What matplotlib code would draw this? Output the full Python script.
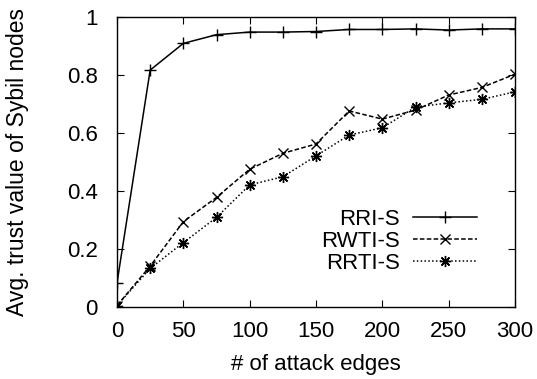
import numpy as np
import matplotlib
matplotlib.use('Agg')
import matplotlib.pyplot as plt

plt.rcParams['font.family'] = ['Liberation Sans', 'DejaVu Sans']

edges = [0, 25, 50, 75, 100, 125, 150, 175, 200, 225, 250, 275, 300]
rri_s = [0.083, 0.817, 0.909, 0.939, 0.948, 0.948, 0.950, 0.957, 0.957, 0.959, 0.955, 0.959, 0.959]
rwti_s = [0.005, 0.141, 0.294, 0.378, 0.475, 0.530, 0.562, 0.676, 0.648, 0.679, 0.731, 0.757, 0.803]
rrti_s = [0.005, 0.133, 0.222, 0.309, 0.421, 0.449, 0.521, 0.593, 0.618, 0.689, 0.704, 0.716, 0.742]

fig = plt.figure(figsize=(5.37, 3.79), dpi=100)
ax = fig.add_axes([117 / 537, 1 - 307 / 379, (515 - 117) / 537, (307 - 17) / 379])

ax.plot(edges, rri_s, color='black', lw=1.1, ls='-', marker='+', ms=8, mew=1.0, label='RRI-S')
ax.plot(edges, rwti_s, color='black', lw=1.1, ls=(0, (3, 1.5)), marker='x', ms=7, mew=1.0, label='RWTI-S')
ax.plot(edges, rrti_s, color='black', lw=1.1, ls=(0, (1, 1.5)), marker=(8, 2, 0), ms=8, mew=1.0, label='RRTI-S')

ax.set_xlim(0, 300)
ax.set_ylim(0, 1)
ax.set_xticks([0, 50, 100, 150, 200, 250, 300])
ax.set_yticks([0, 0.2, 0.4, 0.6, 0.8, 1])
ax.set_yticklabels(['0', '0.2', '0.4', '0.6', '0.8', '1'])
ax.tick_params(direction='in', top=True, right=True, labelsize=16, length=5, pad=10)
ax.tick_params(axis='y', pad=14)
for s in ax.spines.values():
    s.set_linewidth(1.0)

ax.set_xlabel('# of attack edges', fontsize=16, labelpad=9)
ax.set_ylabel('Avg. trust value of Sybil nodes', fontsize=16.5, labelpad=27)

leg = ax.legend(loc='lower right', bbox_to_anchor=(0.932, 0.075), frameon=False, markerfirst=False,
                fontsize=16, handlelength=2.85, handletextpad=0.6, labelspacing=0.05, borderpad=0)

fig.savefig('out.png', dpi=100)
